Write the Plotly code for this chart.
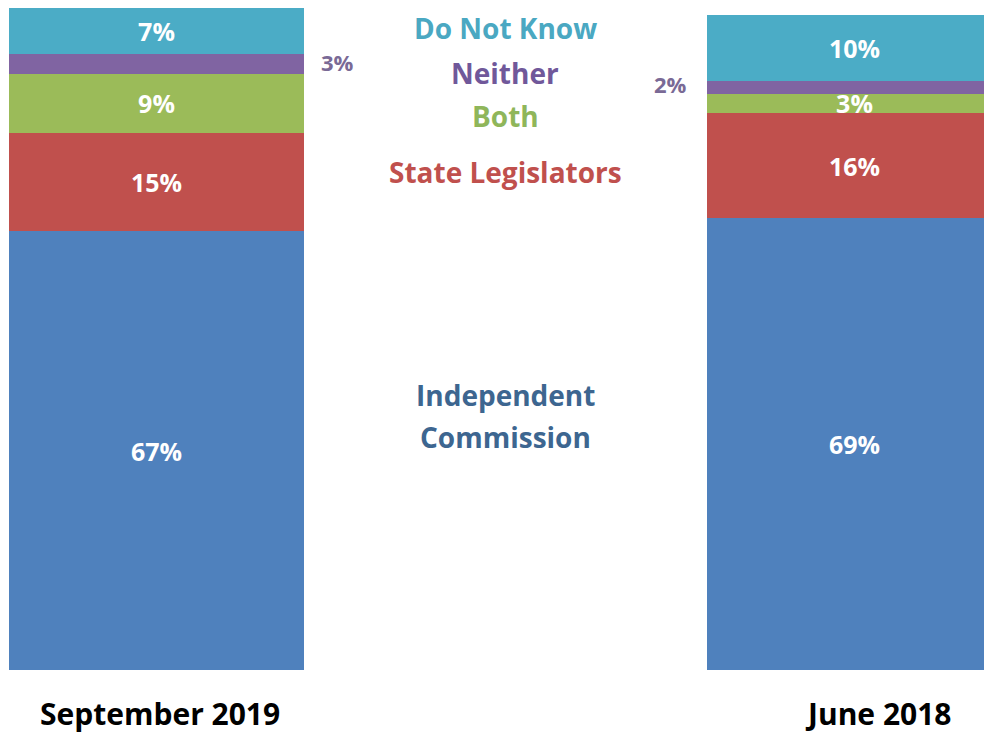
import plotly.graph_objects as go

# survey waves (left to right)
periods = ["September 2019", "June 2018"]

# stacked answers, bottom to top
answers = ["Independent Commission", "State Legislators", "Both", "Neither", "Do Not Know"]
values = {
    "Independent Commission": [67, 69],
    "State Legislators": [15, 16],
    "Both": [9, 3],
    "Neither": [3, 2],
    "Do Not Know": [7, 10],
}

colors = {
    "Independent Commission": "#4f81bd",
    "State Legislators": "#c0504d",
    "Both": "#9bbb59",
    "Neither": "#8064a2",
    "Do Not Know": "#4bacc6",
}
label_colors = {
    "Independent Commission": "#3d6690",
    "State Legislators": "#c0504d",
    "Both": "#8fb65a",
    "Neither": "#70589a",
    "Do Not Know": "#4aa8c2",
}
label_lines = {
    "Independent Commission": ["Independent", "Commission"],
    "State Legislators": ["State Legislators"],
    "Both": ["Both"],
    "Neither": ["Neither"],
    "Do Not Know": ["Do Not Know"],
}
# legend label vertical positions (value units) in the middle gap
label_y = {
    "Independent Commission": 38.8,
    "State Legislators": 76.0,
    "Both": 84.6,
    "Neither": 91.1,
    "Do Not Know": 98.0,
}

FONT = "'Open Sans', sans-serif"
xpos = [0, 1]

fig = go.Figure()
for a in answers:
    inside = a != "Neither"
    fig.add_trace(go.Bar(
        x=xpos,
        y=values[a],
        name=a,
        width=0.4226,
        marker=dict(color=colors[a], line=dict(width=0)),
        text=[f"{v}%" for v in values[a]] if inside else None,
        textposition="inside" if inside else "none",
        insidetextanchor="middle",
        constraintext="none",
        textangle=0,
        textfont=dict(family=FONT, size=25, color="white", weight="bold"),
        hoverinfo="skip",
    ))

# outside labels for the thin "Neither" slices
base_neither = [sum(values[a][i] for a in answers[:3]) for i in range(2)]
for i, dx in zip(range(2), [0.259, -0.264]):
    fig.add_annotation(
        x=xpos[i] + dx, y=base_neither[i] + values["Neither"][i] / 2 + 0.4,
        xref="x", yref="y",
        text=f"{values['Neither'][i]}%", showarrow=False,
        font=dict(family=FONT, size=22, color="#7a6a96", weight="bold"),
    )

# category labels in the middle
for a in answers:
    lines = label_lines[a]
    for k, line in enumerate(lines):
        off = (k - (len(lines) - 1) / 2) * 42
        fig.add_annotation(
            x=0.4993, y=label_y[a], xref="x", yref="y", yshift=-off,
            text=line, showarrow=False,
            font=dict(family=FONT, size=28, color=label_colors[a], weight="bold"),
        )

# period labels under the bars
for i, (xx, yy) in enumerate([(152 / 984, -0.066), (870 / 984, -0.0655)]):
    fig.add_annotation(
        x=xx, y=yy, xref="paper", yref="paper", xanchor="center", yanchor="middle",
        text=periods[i], showarrow=False,
        font=dict(family=FONT, size=30, color="black", weight="bold"),
    )

fig.update_layout(
    barmode="stack",
    width=984, height=725,
    margin=dict(l=0, r=0, t=0, b=63),
    paper_bgcolor="white", plot_bgcolor="white",
    showlegend=False,
    xaxis=dict(range=[-0.21275, 1.19699], visible=False, fixedrange=True),
    yaxis=dict(range=[0, 101.07], visible=False, fixedrange=True),
)

fig.write_html("out.html")
